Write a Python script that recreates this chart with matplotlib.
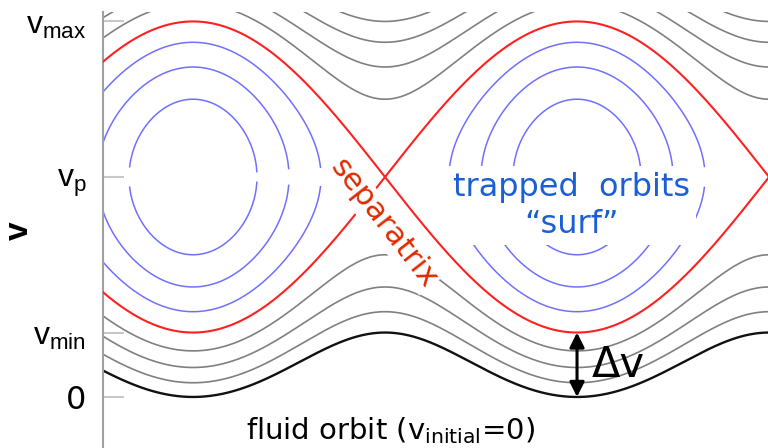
import numpy as np
import matplotlib
matplotlib.use('Agg')
import matplotlib.pyplot as plt

# ---- data (phase-space schematic) ----
v_phase = 1.0                      # v_p
amp = 0.125                        # wave potential amplitude (separatrix half width = 2*sqrt(amp))
trapped_levels = [-0.5, 0.0, 0.5]  # H / amp, trapped orbits
passing_levels = [1.5, 2.0, 2.5, 3.0]  # H / amp, passing orbits
separatrix_level = 1.0
fluid_level = 3.0                  # fluid orbit (v_initial = 0)
phase_range = (-1.473, 9.408)      # wave phase shown
v_range = (-0.232, 1.75)
tick_values = [0.0, 0.293, 1.0, 1.707]
tick_labels = ['0', r'$\mathrm{v}_{\mathrm{min}}$', r'$\mathrm{v}_{\mathrm{p}}$', r'$\mathrm{v}_{\mathrm{max}}$']

plt.rcParams['mathtext.fontset'] = 'custom'
plt.rcParams['mathtext.rm'] = 'Liberation Sans'
plt.rcParams['mathtext.it'] = 'Liberation Sans'
plt.rcParams['font.family'] = ['DejaVu Sans']

fig = plt.figure(figsize=(7.68, 4.48), dpi=100)
ax = fig.add_axes([103/768, 0, 1 - 103/768, 1 - 12/448])

theta = np.linspace(phase_range[0], phase_range[1], 900)

def branches(h):
    s = 2 * amp * (h + np.cos(theta))
    d = np.where(s >= 0, np.sqrt(np.clip(s, 0, None)), np.nan)
    return v_phase + d, v_phase - d

for h in trapped_levels:
    up, lo = branches(h)
    ax.plot(theta, up, color='#7070ff', lw=1.1, zorder=2)
    ax.plot(theta, lo, color='#7070ff', lw=1.1, zorder=2)

for h in passing_levels:
    up, lo = branches(h)
    ax.plot(theta, up, color='#808080', lw=1.2, zorder=2)
    if h == fluid_level:
        ax.plot(theta, lo, color='#111111', lw=1.7, zorder=2)
    else:
        ax.plot(theta, lo, color='#808080', lw=1.2, zorder=2)

up, lo = branches(separatrix_level)
ax.plot(theta, up, color='#ff2020', lw=1.5, zorder=3)
ax.plot(theta, lo, color='#ff2020', lw=1.5, zorder=3)

ax.set_xlim(*phase_range)
ax.set_ylim(*v_range)
ax.set_xticks([])
ax.set_yticks(tick_values)
ax.set_yticklabels(tick_labels)
ax.tick_params(axis='y', direction='in', length=15, width=1.5, color='#c8c8c8',
               labelsize=23, pad=12)
for s in ['top', 'right', 'bottom']:
    ax.spines[s].set_visible(False)
ax.spines['left'].set_color('#a0a0a0')
ax.spines['left'].set_linewidth(1.5)

# Delta v arrow
x_arrow = 2 * np.pi
ax.annotate('', xy=(x_arrow, 0.0), xytext=(x_arrow, tick_values[1]),
            arrowprops=dict(arrowstyle='<|-|>', color='black', lw=2.2,
                            mutation_scale=22, shrinkA=0, shrinkB=0), zorder=5)
ax.text(6.53, 0.145, 'Δv', fontsize=30, ha='left', va='center', color='black', zorder=6)

# labels
ax.text(6.20, 1.0 - 0.13, 'trapped  orbits\n“surf”', fontsize=23, color='#1a5fd6',
        ha='center', va='center', linespacing=1.25, zorder=6,
        bbox=dict(facecolor='white', edgecolor='none', pad=4))
ax.text(3.11, 0.79, 'separatrix', fontsize=22, color='#e02a00', rotation=-52,
        ha='center', va='center', rotation_mode='anchor', zorder=6,
        bbox=dict(facecolor='white', edgecolor='none', pad=1))

fig.text(19/768, 1 - 231/448, 'v', rotation=90, fontsize=24, fontweight='bold',
         ha='center', va='center', family='Liberation Sans')
fig.text(391/768, 1 - 431/448, r'fluid orbit (v$_{\mathregular{initial}}$=0)', fontsize=21,
         ha='center', va='center')

fig.savefig('out.png', dpi=100)
